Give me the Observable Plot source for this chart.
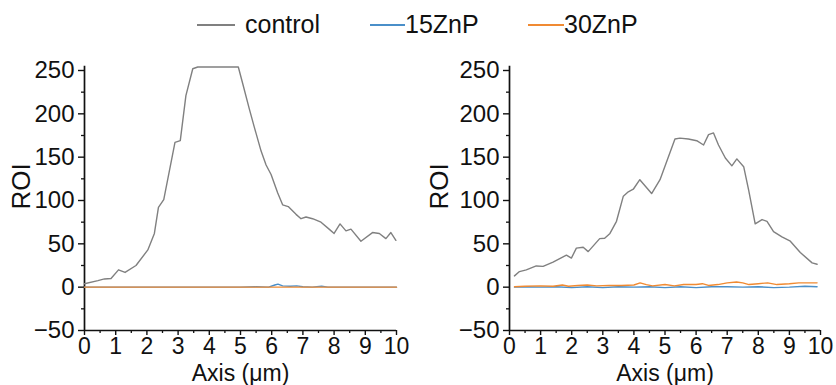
<!DOCTYPE html>
<html>
<head>
<meta charset="utf-8">
<script src="https://cdn.jsdelivr.net/npm/d3@7"></script>
<script src="https://cdn.jsdelivr.net/npm/@observablehq/plot@0.6"></script>
<style>
  html, body { margin: 0; padding: 0; background: #fff; }
  #wrap { position: relative; width: 836px; height: 385px; font-family: "Liberation Sans", Arial, sans-serif; overflow: hidden; }
  #legend { position: absolute; left: 0; top: 0; width: 836px; height: 40px; }
  .item { position: absolute; top: 12px; font-size: 25px; line-height: 25px; color: #111; display: flex; align-items: center; }
  .swatch { display: inline-block; height: 2px; }
  #left { position: absolute; left: 0; top: 0; }
  #right { position: absolute; left: 418px; top: 0; }
</style>
</head>
<body>
<div id="wrap">
  <div id="legend"></div>
  <div id="left"></div>
  <div id="right"></div>
</div>
<script>
// ---- data ----
const seriesNames = ["control", "15ZnP", "30ZnP"];
const seriesColors = ["#808080", "#4a8fc9", "#f08a32"];

const xTicks = [0, 1, 2, 3, 4, 5, 6, 7, 8, 9, 10];
const yTicks = [-50, 0, 50, 100, 150, 200, 250];

// Left panel
const leftControlX = [0, 0.43, 0.64, 0.85, 1.09, 1.3, 1.65, 2.03, 2.24, 2.37, 2.54, 2.9, 3.07, 3.25, 3.47, 3.63, 4.93, 5.07, 5.28, 5.44, 5.66, 5.82, 5.98, 6.19, 6.35, 6.53, 6.78, 6.94, 7.1, 7.31, 7.58, 7.84, 8.0, 8.19, 8.38, 8.54, 8.86, 9.23, 9.45, 9.66, 9.82, 9.98];
const leftControlY = [4, 7.5, 9.5, 10, 20, 17, 25, 43, 62, 92, 101, 167, 169, 221, 252, 254, 254, 235, 206, 185, 157, 141, 130, 109, 95, 93, 84, 79, 81, 79, 75, 67, 62, 73, 65, 67, 53, 63, 62, 56, 63, 54];
const left15X = [0, 5.0, 5.5, 5.9, 6.1, 6.2, 6.35, 6.6, 6.8, 7.0, 7.3, 7.6, 7.8, 10];
const left15Y = [0, 0, 0.4, 0, 2.5, 3.5, 1.5, 1, 1.5, 0.5, 0, 1, 0, 0];
const left30X = [0, 10];
const left30Y = [0, 0];

// Right panel
const rightControlX = [0.16, 0.32, 0.54, 0.86, 1.08, 1.4, 1.83, 1.99, 2.15, 2.37, 2.53, 2.9, 3.06, 3.23, 3.44, 3.66, 3.82, 3.98, 4.19, 4.57, 4.84, 5.32, 5.48, 5.75, 6.02, 6.24, 6.4, 6.56, 6.72, 6.94, 7.15, 7.31, 7.53, 7.69, 7.9, 8.12, 8.28, 8.49, 8.76, 9.03, 9.35, 9.73, 9.89];
const rightControlY = [13, 18, 20, 24.5, 24, 29, 37, 33.5, 45, 46, 41, 56, 56.5, 62, 76, 105, 110, 113, 124, 108, 124, 171, 172, 171, 169, 164, 176, 178, 164, 149, 140, 148, 139, 112, 73, 78, 76, 64, 58, 53, 40, 28, 26.5];
const right15X = [0.16, 0.5, 1.0, 1.5, 2.0, 2.5, 3.0, 3.5, 4.0, 4.5, 5.0, 5.5, 6.0, 6.5, 7.0, 7.5, 8.0, 8.5, 9.0, 9.5, 9.89];
const right15Y = [0, 0.5, 0, 0.5, -0.5, 0.5, -0.5, 0.5, 0, 0.5, -0.5, 0.5, -0.5, 0.5, 0.5, 0, 0.5, -0.5, 0, 1, 0.5];
const right30X = [0.16, 0.5, 1.0, 1.4, 1.7, 1.9, 2.2, 2.5, 2.8, 3.2, 3.6, 4.0, 4.2, 4.4, 4.6, 5.0, 5.3, 5.6, 6.0, 6.2, 6.4, 6.7, 7.0, 7.3, 7.5, 7.7, 8.0, 8.3, 8.6, 9.0, 9.3, 9.6, 9.89];
const right30Y = [0.5, 1, 1.5, 1, 2.5, 1, 2, 2.5, 1.5, 2, 2, 2.5, 5, 3, 1.5, 3, 1.5, 3, 3, 4, 2, 3, 5, 6, 5, 3, 4, 5, 3, 4, 5, 5, 5];

// ---- legend (HTML) ----
const legendItems = [
  {left: 197, lineW: 38, gap: 10},
  {left: 370, lineW: 35, gap: 0},
  {left: 528, lineW: 36, gap: 0}
];
const legend = document.getElementById("legend");
seriesNames.forEach((name, i) => {
  const it = document.createElement("div");
  it.className = "item";
  it.style.left = legendItems[i].left + "px";
  const sw = document.createElement("span");
  sw.className = "swatch";
  sw.style.width = legendItems[i].lineW + "px";
  sw.style.background = seriesColors[i];
  sw.style.marginRight = legendItems[i].gap + "px";
  it.appendChild(sw);
  const t = document.createElement("span");
  t.textContent = name;
  it.appendChild(t);
  legend.appendChild(it);
});

function rows(xs, ys, s) { return xs.map((x, i) => ({x, y: ys[i], s})); }

function panel(data, margins) {
  return Plot.plot({
    width: 418,
    height: 385,
    marginTop: 70,
    marginBottom: 55,
    marginLeft: margins.left,
    marginRight: margins.right,
    style: {fontFamily: "Liberation Sans, Arial, sans-serif", background: "transparent", color: "#111"},
    x: {domain: [0, 10]},
    y: {domain: [-50, 250]},
    color: {domain: seriesNames, range: seriesColors},
    marks: [
      Plot.axisY({ticks: yTicks, tickSize: 6, tickPadding: 4, fontSize: 24, label: null, stroke: "#111", strokeWidth: 1.4}),
      Plot.axisY({ticks: d3.range(-25, 250, 50), tickSize: 3, text: null, label: null, stroke: "#111", strokeWidth: 1.3}),
      Plot.axisX({ticks: xTicks, tickSize: 5, tickPadding: 2, fontSize: 23, label: null, stroke: "#111", strokeWidth: 1.4}),
      Plot.axisX({ticks: d3.range(0.5, 10, 1), tickSize: 3, text: null, label: null, stroke: "#111", strokeWidth: 1.3}),
      Plot.ruleX([0], {y1: -50, y2: 255, stroke: "#111", strokeWidth: 1.7}),
      Plot.ruleY([-50], {x1: 0, x2: 10, stroke: "#111", strokeWidth: 1.7}),
      Plot.line(data, {x: "x", y: "y", z: "s", stroke: "s", strokeWidth: 1.4}),
      Plot.text(["Axis (μm)"], {frameAnchor: "bottom", dy: 50, lineAnchor: "bottom", textAnchor: "middle", fontSize: 23, fill: "#111"}),
      Plot.text(["ROI"], {frameAnchor: "left", dx: -margins.left + 21, dy: -14, rotate: -90, textAnchor: "middle", fontSize: 26, fill: "#111"})
    ]
  });
}

const leftData = [
  ...rows(leftControlX, leftControlY, "control"),
  ...rows(left15X, left15Y, "15ZnP"),
  ...rows(left30X, left30Y, "30ZnP")
];
const rightData = [
  ...rows(rightControlX, rightControlY, "control"),
  ...rows(right15X, right15Y, "15ZnP"),
  ...rows(right30X, right30Y, "30ZnP")
];

document.getElementById("left").appendChild(panel(leftData, {left: 84, right: 22}));
document.getElementById("right").appendChild(panel(rightData, {left: 91, right: 16}));
</script>
</body>
</html>
